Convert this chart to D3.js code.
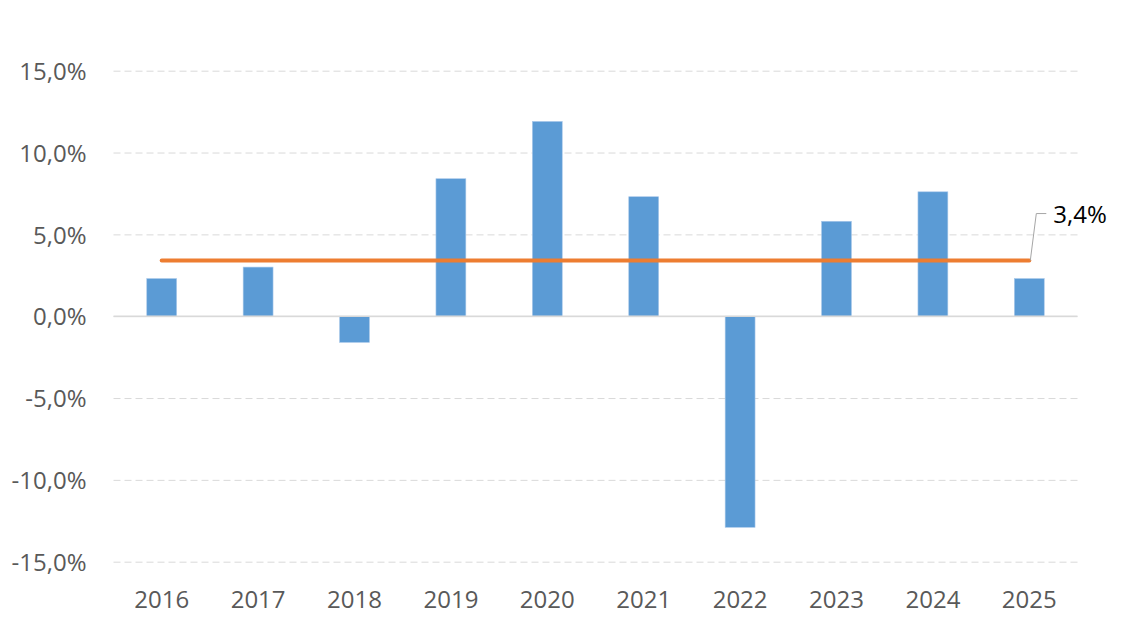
<!DOCTYPE html>
<html>
<head>
<meta charset="utf-8">
<script src="https://cdnjs.cloudflare.com/ajax/libs/d3/7.8.5/d3.min.js"></script>
<style>
    body { margin: 0; background: #fff; }
    text { font-family: "Open Sans", sans-serif; }
</style>
</head>
<body>
<div id="chart-area"></div>
<script>
// data
var years = ["2016", "2017", "2018", "2019", "2020", "2021", "2022", "2023", "2024", "2025"];
var growth = [2.3, 3.0, -1.6, 8.4, 11.9, 7.3, -12.9, 5.8, 7.6, 2.3];
var average = 3.4;
var yTicks = [-15, -10, -5, 0, 5, 10, 15];

var margin = {top: 70.7, right: 62.5, bottom: 69.3, left: 113.5};
var width = 1140 - margin.left - margin.right;
var height = 631 - margin.top - margin.bottom;

// excel style: comma decimal, plain hyphen for minus
var fmt = function(d) {
    return d3.format(".1f")(d).replace(".", ",").replace("\u2212", "-") + "%";
};

var svg = d3.select("#chart-area").append("svg")
    .attr("width", 1140)
    .attr("height", 631);

var g = svg.append("g")
    .attr("transform", "translate(" + margin.left + "," + margin.top + ")");

var x = d3.scaleBand()
    .domain(years)
    .range([0, width])
    .paddingInner(0.69)
    .paddingOuter(0.345);

var y = d3.scaleLinear()
    .domain([-15, 15])
    .range([height, 0]);

// gridlines + y labels
var yAxisCall = d3.axisLeft(y)
    .tickValues(yTicks)
    .tickSize(-width)
    .tickFormat(fmt);

var yAxis = g.append("g")
    .attr("class", "y axis")
    .call(yAxisCall);

yAxis.select(".domain").remove();
yAxis.selectAll(".tick line")
    .attr("stroke", "#d9d9d9")
    .attr("stroke-width", 1)
    .attr("stroke-dasharray", function(d) { return d === 0 ? null : "7,4"; });
yAxis.selectAll(".tick text")
    .attr("x", -27)
    .attr("dy", "0.36em")
    .attr("fill", "#595959")
    .style("font-size", "24px");

// bars
g.selectAll("rect.bar")
    .data(years)
    .enter().append("rect")
    .attr("class", "bar")
    .attr("x", function(d) { return x(d); })
    .attr("width", x.bandwidth())
    .attr("y", function(d, i) { return y(Math.max(0, growth[i])); })
    .attr("height", function(d, i) { return Math.abs(y(growth[i]) - y(0)); })
    .attr("fill", "#5b9bd5")
    .attr("stroke", "#a9c8ea")
    .attr("stroke-width", 0.6);

// zero line on top
g.append("line")
    .attr("x1", 0).attr("x2", width)
    .attr("y1", y(0)).attr("y2", y(0))
    .attr("stroke", "#d9d9d9")
    .attr("stroke-width", 1.5);

// average line
var line = d3.line()
    .x(function(d) { return x(d) + x.bandwidth() / 2; })
    .y(function() { return y(average); });

g.append("path")
    .datum(years)
    .attr("d", line)
    .attr("fill", "none")
    .attr("stroke", "#ed7d31")
    .attr("stroke-width", 4)
    .attr("stroke-linecap", "round");

// label with leader line
var lx = x(years[years.length - 1]) + x.bandwidth() / 2;
var ly = y(average);

g.append("path")
    .attr("d", "M" + (lx + 1) + "," + ly + "L" + (lx + 7) + "," + (ly - 47) + "L" + (lx + 17) + "," + (ly - 47))
    .attr("fill", "none")
    .attr("stroke", "#a6a6a6")
    .attr("stroke-width", 1);

g.append("text")
    .attr("x", lx + 24)
    .attr("y", ly - 38)
    .attr("fill", "#000")
    .style("font-size", "24px")
    .text(fmt(average));

// x labels
var xAxisCall = d3.axisBottom(x).tickSize(0);
var xAxis = g.append("g")
    .attr("class", "x axis")
    .attr("transform", "translate(0," + height + ")")
    .call(xAxisCall);

xAxis.select(".domain").remove();
xAxis.selectAll(".tick text")
    .attr("y", 0)
    .attr("dy", "1.95em")
    .attr("fill", "#595959")
    .style("font-size", "24px");
</script>
</body>
</html>
